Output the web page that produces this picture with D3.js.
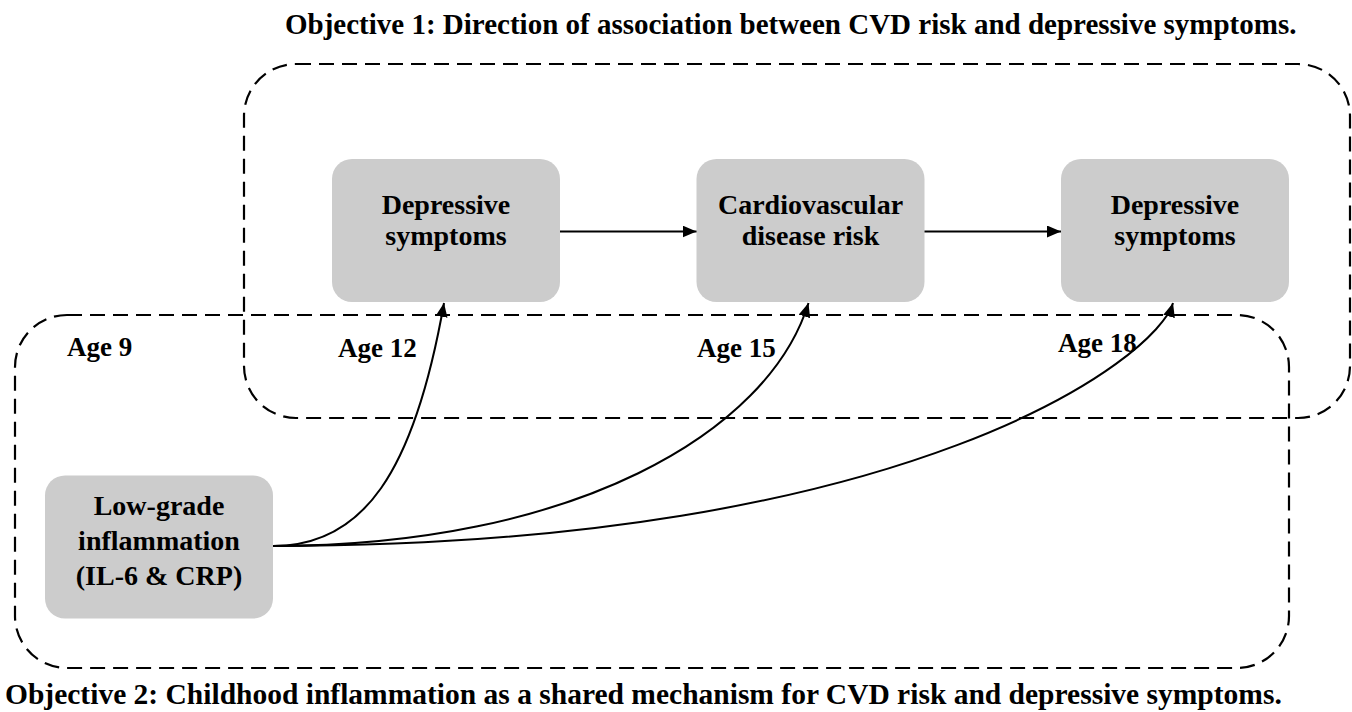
<!DOCTYPE html>
<html>
<head>
<meta charset="utf-8">
<script src="https://cdn.jsdelivr.net/npm/d3@7"></script>
<style>
  html, body { margin: 0; padding: 0; background: #fff; }
  text { font-family: "Liberation Serif", "Times New Roman", serif; font-weight: bold; fill: #000; }
</style>
</head>
<body>
<div id="chart"></div>
<script>
// Diagram content
const titles = [
  'Objective 1: Direction of association between CVD risk and depressive symptoms.',
  'Objective 2: Childhood inflammation as a shared mechanism for CVD risk and depressive symptoms.',
];
const ages = [9, 12, 15, 18];
const outcomeNodes = [
  ['Depressive', 'symptoms'],
  ['Cardiovascular', 'disease risk'],
  ['Depressive', 'symptoms'],
];
const exposureNode = ['Low-grade', 'inflammation', '(IL-6 & CRP)'];

const width = 1352;
const height = 712;

const svg = d3.select('#chart')
  .append('svg')
  .attr('width', width)
  .attr('height', height);

// arrow head
svg.append('defs').append('marker')
  .attr('id', 'head')
  .attr('markerUnits', 'userSpaceOnUse')
  .attr('viewBox', '0 0 14 12')
  .attr('refX', 14)
  .attr('refY', 6)
  .attr('markerWidth', 14)
  .attr('markerHeight', 12)
  .attr('orient', 'auto')
  .append('path')
  .attr('d', 'M0,0 L14,6 L0,12 Z')
  .attr('fill', '#000');

// column positions for the age 12/15/18 boxes
const x = d3.scalePoint().domain(ages.slice(1)).range([446, 1175]);
const boxW = 228;
const boxH = 143;
const boxTop = 159;

// dashed group frames
const frames = [
  { x: 244, y: 64, w: 1106, h: 354 },
  { x: 15, y: 315, w: 1274, h: 353 },
];
svg.selectAll('rect.frame')
  .data(frames)
  .join('rect')
  .attr('class', 'frame')
  .attr('x', d => d.x)
  .attr('y', d => d.y)
  .attr('width', d => d.w)
  .attr('height', d => d.h)
  .attr('rx', 52)
  .attr('fill', 'none')
  .attr('stroke', '#000')
  .attr('stroke-width', 2.2)
  .attr('stroke-dasharray', '15,8');

// outcome boxes
const nodes = svg.selectAll('g.node')
  .data(outcomeNodes)
  .join('g')
  .attr('class', 'node')
  .attr('transform', (d, i) => `translate(${x(ages[i + 1])}, ${boxTop + boxH / 2})`);

nodes.append('rect')
  .attr('x', -boxW / 2)
  .attr('y', -boxH / 2)
  .attr('width', boxW)
  .attr('height', boxH)
  .attr('rx', 20)
  .attr('fill', '#cccccc');

nodes.selectAll('text')
  .data(d => d)
  .join('text')
  .attr('text-anchor', 'middle')
  .attr('font-size', 28)
  .attr('y', (d, i, all) => (i - (all.length - 1) / 2) * 31 - 1)
  .text(d => d);

// exposure box
const exp = { cx: 159, cy: 547 };
const eg = svg.append('g').attr('transform', `translate(${exp.cx}, ${exp.cy})`);
eg.append('rect')
  .attr('x', -boxW / 2)
  .attr('y', -boxH / 2)
  .attr('width', boxW)
  .attr('height', boxH)
  .attr('rx', 20)
  .attr('fill', '#cccccc');
eg.selectAll('text')
  .data(exposureNode)
  .join('text')
  .attr('text-anchor', 'middle')
  .attr('font-size', 28)
  .attr('y', (d, i) => (i - 1) * 35 + 3)
  .text(d => d);

// horizontal arrows between outcome boxes
const midY = boxTop + boxH / 2 + 1;
svg.selectAll('line.step')
  .data(d3.pairs(ages.slice(1)))
  .join('line')
  .attr('class', 'step')
  .attr('x1', d => x(d[0]) + boxW / 2)
  .attr('x2', d => x(d[1]) - boxW / 2)
  .attr('y1', midY)
  .attr('y2', midY)
  .attr('stroke', '#000')
  .attr('stroke-width', 2)
  .attr('marker-end', 'url(#head)');

// curved arrows from inflammation to each outcome
const sx = exp.cx + boxW / 2;
const sy = exp.cy - 1;
const endY = boxTop + boxH + 1;
const curveCtrl = [
  { c1: 90, c2x: -30, c2y: 170 },
  { c1: 300, c2x: -40, c2y: 130 },
  { c1: 640, c2x: -16, c2y: 55 },
];
svg.selectAll('path.link')
  .data(ages.slice(1))
  .join('path')
  .attr('class', 'link')
  .attr('d', (a, i) => {
    const ex = x(a) - 2;
    const c = curveCtrl[i];
    const p = d3.path();
    p.moveTo(sx, sy);
    p.bezierCurveTo(sx + c.c1, sy, ex + c.c2x, endY + c.c2y, ex, endY);
    return p.toString();
  })
  .attr('fill', 'none')
  .attr('stroke', '#000')
  .attr('stroke-width', 2)
  .attr('marker-end', 'url(#head)');

// age labels
const agePos = [[67, 356], [338, 357], [697, 357], [1058, 352]];
svg.selectAll('text.age')
  .data(ages)
  .join('text')
  .attr('class', 'age')
  .attr('x', (d, i) => agePos[i][0])
  .attr('y', (d, i) => agePos[i][1])
  .attr('font-size', 27)
  .text(d => `Age ${d}`);

// objective titles
svg.append('text')
  .attr('x', 285)
  .attr('y', 34)
  .attr('font-size', 29)
  .text(titles[0]);
svg.append('text')
  .attr('x', 5)
  .attr('y', 704)
  .attr('font-size', 29.5)
  .text(titles[1]);
</script>
</body>
</html>
